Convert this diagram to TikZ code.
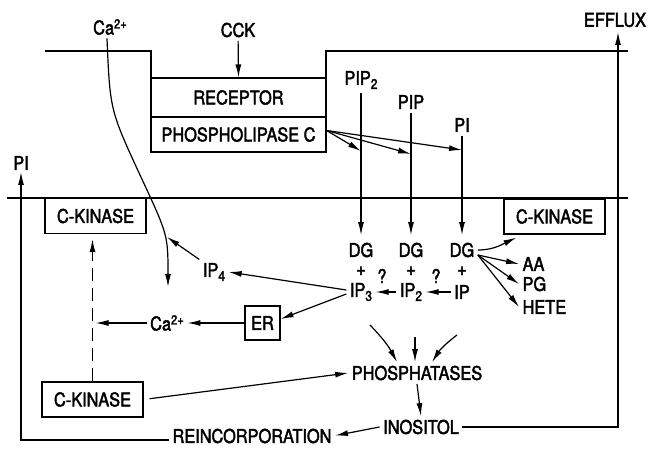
\documentclass[tikz,border=0pt]{standalone}
\usepackage{fontspec}
\setmainfont{TeX Gyre Heros}[FakeStretch=0.86, FakeBold=2.2]
\usetikzlibrary{arrows.meta}
\newcommand{\MT}{51}   % outer membrane
\newcommand{\MB}{198}  % inner membrane
\newcommand{\EX}{618}  % efflux line
\newcommand{\PX}{21}   % PI return line
\newcommand{\lowidx}[1]{\raisebox{-4pt}{\fontsize{14}{14}\selectfont #1}}
\newcommand{\hiidx}[1]{\raisebox{6pt}{\fontsize{13}{13}\selectfont #1}}

\begin{document}
\begin{tikzpicture}[
    x=1pt, y=-1pt, line width=1.2pt,
    >={Latex[length=13pt,width=6pt]},
    lbl/.style={font=\fontsize{19}{21}\selectfont, inner sep=3pt},
    box/.style={lbl, draw, minimum width=101pt, minimum height=35pt, inner sep=0pt},
    ghost/.style={dashed, dash pattern=on 13pt off 7pt},
  ]
  \useasboundingbox (0,0) rectangle (649,449);

  % membranes
  \draw (45,\MT) -- (151,\MT) -- (151,152);
  \draw (326,152) -- (326,\MT) -- (628,\MT);
  \draw (7,\MB) -- (628,\MB);

  % receptor complex
  \node[box, minimum width=175pt, minimum height=39pt] (rec) at (238.5,97.5) {RECEPTOR};
  \node[box, minimum width=175pt] (plc) at (238.5,134.5) {PHOSPHOLIPASE C};
  \node[lbl] (cck) at (238,30) {CCK};
  \draw[->] (cck) -- (rec.north);

  % calcium influx
  \node[lbl] (ca) at (110,27) {Ca\hiidx{2+}};
  \node[lbl] (ca2) at (167,323) {Ca\hiidx{2+}};
  \coordinate (caEnd) at (168,287);
  \draw[->] ([xshift=-3pt]ca.south) .. controls (110,110) .. (140,175)
    .. controls (168,235) .. (caEnd);

  % lipids, DG and inositol phosphates
  \foreach \n/\x/\y/\h/\src/\ip in {1/361/80/151/PIP\lowidx{2}/IP\lowidx{3},
                                    2/411/102/154/PIP/IP\lowidx{2},
                                    3/462/125/150/PI/IP} {
    \node[lbl] (src\n) at (\x,\y) {\src};
    \node[lbl] (dg\n) at (\x,250) {DG};
    \node[lbl] (pl\n) at (\x,271) {+};
    \node[lbl] (ip\n) at (\x,292) {\ip};
    \coordinate (hit\n) at (\x,\h);
    \draw[->] (src\n.south -| dg\n.north) -- ([yshift=4pt]dg\n.north);
    \draw[->] ([yshift=4pt]plc.east) -- (hit\n);
  }
  \draw[->] (ip3.west) -- (ip2.east);
  \draw[->] (ip2.west) -- (ip1.east);
  \node[lbl] (q1) at (382,276) {?};
  \node[lbl] (q2) at (436,276) {?};

  % DG products
  \node[box] (ckR) at (554.5,216.5) {C-KINASE};
  \node[lbl, anchor=west] (aa) at (519,264) {AA};
  \node[lbl, anchor=west] (pg) at (519,284) {PG};
  \node[lbl, anchor=west] (hete) at (519,307) {HETE};
  \draw[->] (dg3.east) to[out=0,in=205] ([xshift=-38pt,yshift=-3pt]ckR.south);
  \foreach \t in {aa,pg,hete}
    \draw[->] ([yshift=-5pt]dg3.east) -- (\t.west);

  % IP3 branch
  \node[lbl] (ip4) at (214,272) {IP\lowidx{4}};
  \node[box, minimum width=35pt, minimum height=34pt] (er) at (262.5,323) {ER};
  \coordinate (ip4tip) at (167,237);
  \draw[->] ([yshift=2pt]ip1.west) -- (ip4.east);
  \draw[->] ([yshift=-2pt]ip1.west) -- ([yshift=4pt]er.east);
  \draw[->] (ip4.north west) -- (ip4tip);
  \draw[->] (er.west) -- (ca2.east);

  % protein kinase C
  \node[box] (ckT) at (95.5,216) {C-KINASE};
  \node[box] (ckB) at (92.5,399.5) {C-KINASE};
  \draw[ghost, ->, shorten >=5pt] (ckB.north) -- (ckB.north |- ckT.south);
  \draw[->, shorten >=3pt] (ca2.west) -- (ca2.west -| ckB.north);

  % degradation
  \node[lbl] (phos) at (417,373) {PHOSPHATASES};
  \node[lbl] (inos) at (421,427) {INOSITOL};
  \node[lbl, inner sep=1pt] (reinc) at (252,436) {REINCORPORATION};
  \coordinate (ph1) at (370,325);
  \coordinate (ph2) at (415,337);
  \coordinate (ph3) at (457,335);
  \draw[->] (ph1) to[bend left=8] ([xshift=-20pt]phos.north);
  \draw[->] (ph2) -- (ph2 |- phos.north);
  \draw[->] (ph3) to[bend right=10] ([xshift=15pt]phos.north);
  \draw[->, shorten <=6pt] (ckB.east) -- (phos.west);
  \draw[->] (phos.south) -- (inos.north);
  \draw[->, shorten >=2pt] (inos.west) -- (reinc.east);

  % efflux and reincorporation loops
  \node[lbl] (efflux) at (615,20) {EFFLUX};
  \node[lbl] (piL) at (\PX,163) {PI};
  \coordinate (exTop) at (\EX,32);
  \coordinate (piTop) at (\PX,172);
  \draw[->] (inos.east) -| (exTop);
  \draw[->, shorten <=2pt] ([yshift=-4pt]reinc.west) -| (piTop);
\end{tikzpicture}
\end{document}
